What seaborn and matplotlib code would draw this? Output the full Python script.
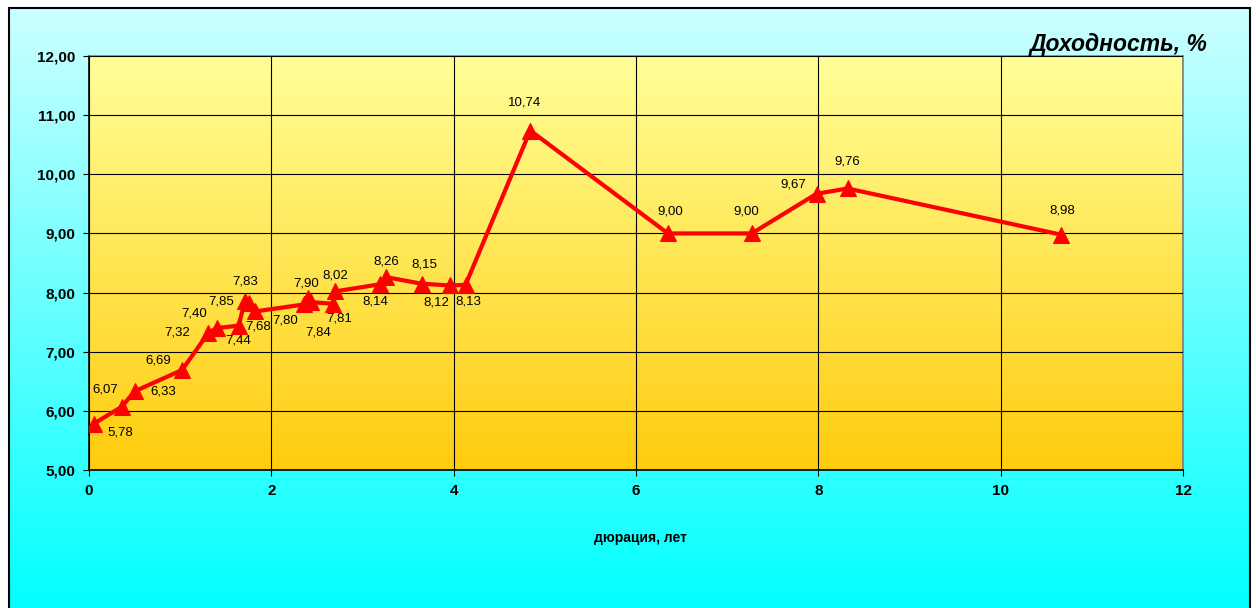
import numpy as np
import pandas as pd
import matplotlib
matplotlib.use('Agg')
import matplotlib.pyplot as plt
import seaborn as sns
from matplotlib.patches import Rectangle

# duration (years) and yield (%)
duration = [0.05, 0.36, 0.50, 1.02, 1.31, 1.40, 1.64, 1.71, 1.76, 1.82,
            2.36, 2.40, 2.43, 2.68, 2.70, 3.19, 3.26, 3.65, 3.96, 4.13,
            4.84, 6.35, 7.27, 7.98, 8.32, 10.66]
yields = [5.78, 6.07, 6.33, 6.69, 7.32, 7.40, 7.44, 7.85, 7.83, 7.68,
          7.80, 7.90, 7.84, 7.81, 8.02, 8.14, 8.26, 8.15, 8.12, 8.13,
          10.74, 9.00, 9.00, 9.67, 9.76, 8.98]
x_ticks = [0, 2, 4, 6, 8, 10, 12]
y_ticks = [5, 6, 7, 8, 9, 10, 11, 12]

# label offsets in pixels (dx, dy up)
label_off = [(27, -9), (-17, 17), (29, 0), (-24, 10), (-31, 0), (-22, 15), (0, -15),
             (-24, 0), (-4, 21), (3, -15), (-19, -16), (-2, 15), (8, -30), (6, -15),
             (0, 16), (-5, -17), (0, 16), (3, 19), (-14, -17), (3, -17),
             (-6, 28), (2, 22), (-6, 22), (-23, 9), (0, 27), (1, 24)]

df = pd.DataFrame({'duration': duration, 'yield': yields})

sns.set_theme(style='white')
plt.rcParams['font.family'] = ['Liberation Sans', 'DejaVu Sans']
plt.rcParams['text.color'] = 'black'
plt.rcParams['xtick.color'] = 'black'
plt.rcParams['ytick.color'] = 'black'
plt.rcParams['axes.labelcolor'] = 'black'

W, H = 1256, 608
fig = plt.figure(figsize=(W / 100, H / 100), dpi=100)
fig.patch.set_facecolor('white')

# background panel with cyan gradient (bottom edge runs off the picture)
bg = fig.add_axes([9 / W, -4 / H, (1250 - 9) / W, (H - 8 + 4) / H])
grad = np.linspace(0, 1, 256).reshape(-1, 1)
top_c = np.array([0.80, 1.0, 1.0])
bot_c = np.array([0.0, 1.0, 1.0])
bg_img = top_c + (bot_c - top_c) * grad[:, :, None]
bg.imshow(bg_img, aspect='auto', extent=[0, 1, 0, 1], origin='upper')
bg.set_xlim(0, 1)
bg.set_ylim(0, 1)
bg.axis('off')
bg.add_patch(Rectangle((0, 0), 1, 1, transform=bg.transAxes, fill=False,
                       edgecolor='black', linewidth=1.5, clip_on=False))

ax = fig.add_axes([89 / W, 1 - 470 / H, (1183 - 89) / W, (470 - 56) / H])
p_top = np.array([1.0, 1.0, 0.6])
p_bot = np.array([1.0, 0.8, 0.05])
p_img = p_top + (p_bot - p_top) * grad[:, :, None]
ax.imshow(p_img, aspect='auto', extent=[0, 12, 5, 12], origin='upper', zorder=0)

sns.lineplot(data=df, x='duration', y='yield', sort=False, color='#ff0000',
             linewidth=3, marker='^', markersize=11, markeredgecolor='#ff0000',
             ax=ax, zorder=3)

for (xv, yv), (dx, dy) in zip(zip(duration, yields), label_off):
    ax.annotate(f'{yv:.2f}'.replace('.', ','), (xv, yv), xytext=(dx, dy),
                textcoords='offset pixels', ha='center', va='center',
                fontsize=9.5, color='black', zorder=4)

ax.set_xlim(0, 12)
ax.set_ylim(5, 12)
ax.set_xticks(x_ticks)
ax.set_yticks(y_ticks)
ax.set_xticklabels([str(t) for t in x_ticks], fontsize=11, fontweight='bold')
ax.set_yticklabels([f'{t:.2f}'.replace('.', ',') for t in y_ticks], fontsize=11,
                   fontweight='bold')
ax.grid(True, color='black', linewidth=0.8, zorder=1)
ax.set_axisbelow(False)
for line in ax.get_xgridlines() + ax.get_ygridlines():
    line.set_zorder(1)
ax.tick_params(axis='both', direction='out', length=4, width=0.8, color='black',
               bottom=True, left=True, pad=6)
ax.spines['left'].set_color('black')
ax.spines['bottom'].set_color('black')
ax.spines['top'].set_color('#808080')
ax.spines['right'].set_color('#808080')
for s in ax.spines.values():
    s.set_linewidth(1.2)
ax.set_xlabel('')
ax.set_ylabel('')

fig.text(640 / W, 1 - 538 / H, 'дюрация, лет', ha='center', va='center',
         fontsize=10, fontweight='bold')
fig.text(1208 / W, 1 - 45 / H, 'Доходность, %', ha='right', va='center',
         fontsize=16.5, fontweight='bold', fontstyle='italic')

fig.savefig('out.png', dpi=100)
